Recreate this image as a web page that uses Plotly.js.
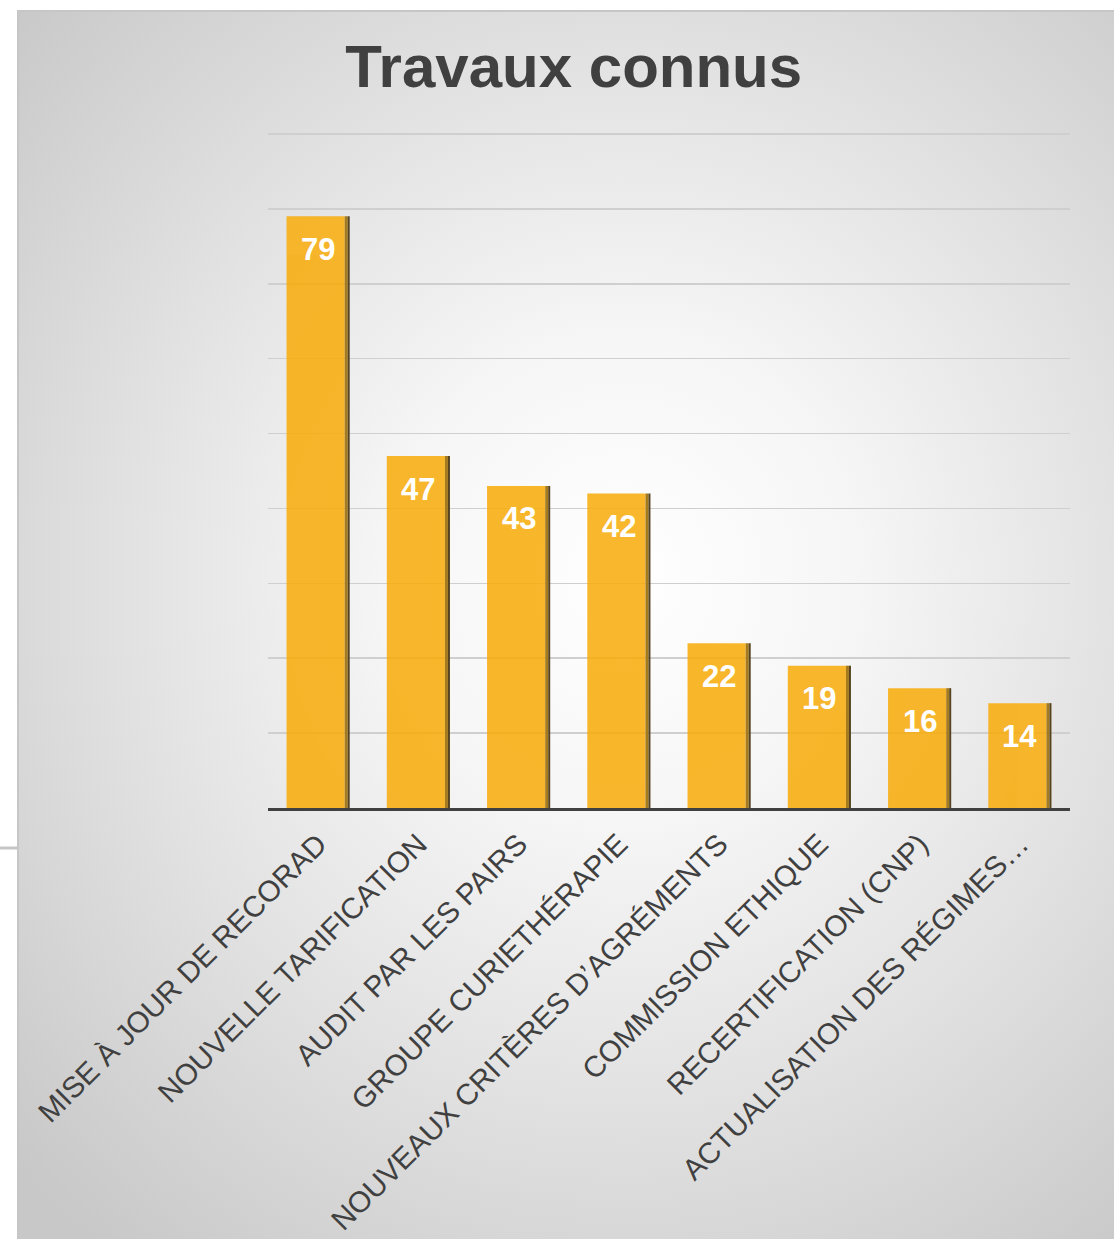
<!DOCTYPE html>
<html>
<head>
<meta charset="utf-8">
<script src="https://cdn.plot.ly/plotly-3.0.1.min.js"></script>
<style>
  html, body { margin: 0; padding: 0; background: #ffffff; }
  #wrap { position: relative; width: 1114px; height: 1239px; overflow: hidden; }
  #bg { position: absolute; left: 17px; top: 10px; width: 1100px; height: 1232px;
        border-left: 2px solid #c6c6c6; border-top: 2px solid #c6c6c6;
        background: radial-gradient(ellipse 75% 70% at 55% 46%, #ffffff 0%, #f6f6f6 28%, #e2e2e2 60%, #c8c8c8 100%); }
  #chart { position: absolute; left: 0; top: 0; width: 1114px; height: 1239px; }
</style>
</head>
<body>
<div id="wrap">
  <div id="bg"></div>
  <div id="chart"></div>
</div>
<script>
const categories = [
  "MISE À JOUR DE RECORAD",
  "NOUVELLE TARIFICATION",
  "AUDIT PAR LES PAIRS",
  "GROUPE CURIETHÉRAPIE",
  "NOUVEAUX CRITÈRES D’AGRÉMENTS",
  "COMMISSION ETHIQUE",
  "RECERTIFICATION (CNP)",
  "ACTUALISATION DES RÉGIMES…"
];
const values = [79, 47, 43, 42, 22, 19, 16, 14];
const chartTitle = "Travaux connus";

const FONT = "Liberation Sans, Arial, sans-serif";

// main bar body (slightly translucent so the gridlines show through, as in the reference)
const mainBars = {
  type: "bar", x: categories, y: values,
  width: 0.58, offset: -0.315,
  marker: { color: "rgb(248,172,10)", line: { width: 0 } },
  opacity: 0.86,
  hoverinfo: "x+y"
};
// bevel shading on the right edge of each bar
const bevelInner = {
  type: "bar", x: categories, y: values,
  width: 0.03, offset: 0.265,
  marker: { color: "#a67b1e", line: { width: 0 } },
  hoverinfo: "skip"
};
const bevelOuter = {
  type: "bar", x: categories, y: values,
  width: 0.02, offset: 0.295,
  marker: { color: "#55441f", line: { width: 0 } },
  hoverinfo: "skip"
};

const annotations = values.map((v, i) => ({
  x: categories[i], y: v, xref: "x", yref: "y",
  text: String(v), showarrow: false,
  yanchor: "middle", yshift: -33,
  font: { family: FONT, size: 31, color: "#ffffff", weight: "bold" }
}));

const layout = {
  width: 1114, height: 1239,
  margin: { l: 268, r: 44, t: 127, b: 431 },
  paper_bgcolor: "rgba(0,0,0,0)",
  plot_bgcolor: "rgba(0,0,0,0)",
  showlegend: false,
  barmode: "overlay",
  title: {
    text: "<b>" + chartTitle + "</b>",
    x: 0.515, xanchor: "center", y: 0.947, yanchor: "middle",
    font: { family: FONT, size: 60, color: "#404040" }
  },
  xaxis: {
    type: "category",
    tickangle: -45,
    tickfont: { family: FONT, size: 29.5, color: "#404040" },
    ticklabelstandoff: 4,
    showline: true, linecolor: "#404040", linewidth: 3,
    ticks: "", showgrid: false, zeroline: false,
    layer: "above traces"
  },
  yaxis: {
    range: [0, 90.93],
    tickvals: [10, 20, 30, 40, 50, 60, 70, 80, 90],
    showticklabels: false,
    showgrid: true, gridcolor: "#cfcfcf", gridwidth: 1.5,
    zeroline: false, showline: false, ticks: ""
  },
  annotations: annotations,
  shapes: [{
    type: "line", xref: "paper", yref: "paper",
    x0: -268/802, x1: -251/802, y0: (808-848)/681, y1: (808-848)/681,
    line: { color: "#c6c6c6", width: 3 }
  }]
};

Plotly.newPlot("chart", [mainBars, bevelInner, bevelOuter], layout, { displayModeBar: false, staticPlot: true });
</script>
</body>
</html>
